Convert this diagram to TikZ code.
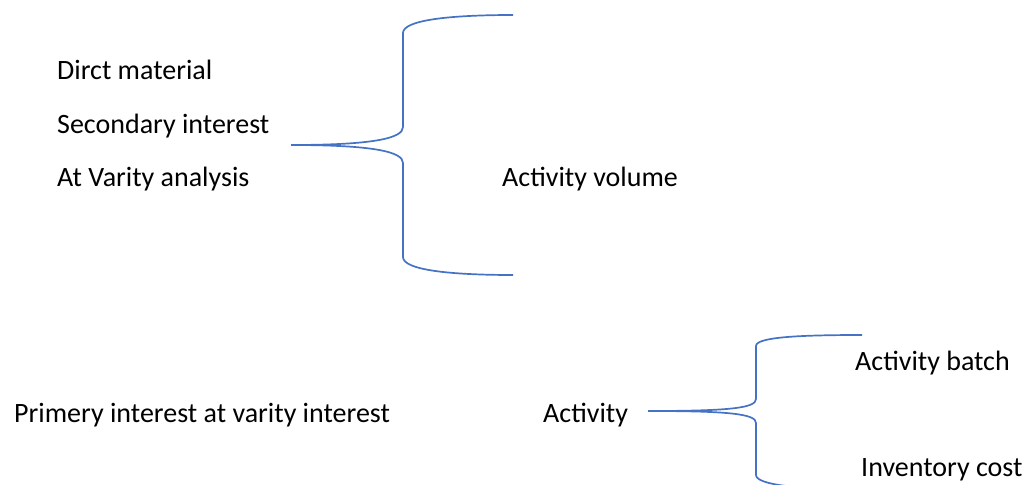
\documentclass[tikz,border=0pt]{standalone}
\usepackage{fontspec}
\setmainfont{Carlito}
\definecolor{bracecol}{RGB}{68,114,196}
\begin{document}
\begin{tikzpicture}[x=1pt,y=-1pt,
  lbl/.style={anchor=base west,inner sep=0pt,font=\fontsize{28}{34}\selectfont},
  bracepath/.style={draw=bracecol,line width=1.7pt}]
\useasboundingbox (0,0) rectangle (1032,484);
\clip (0,0) rectangle (1032,484);
% labels
\node[lbl] (dm) at (57,80) {Dirct material};
\node[lbl] (si) at (57,133) {Secondary interest};
\node[lbl] (va) at (57,186) {At Varity analysis};
\node[lbl] (av) at (502,186) {Activity volume};
\node[lbl] (pi) at (14,422) {Primery interest at varity interest};
\node[lbl] (ac) at (543,422) {Activity};
\node[lbl] (ab) at (855,370) {Activity batch};
\node[lbl] (ic) at (861,476) {Inventory cost};
% brace 1
\coordinate (b1tip) at (291,145);
\coordinate (b1top) at (513,15);
\coordinate (b1bot) at (513,275);
\path[bracepath] (b1tip) .. controls (375,145) and (403,138) .. (403,127)
  -- (403,33) .. controls (403,20) and (450,15) .. (b1top);
\path[bracepath] (b1tip) .. controls (375,145) and (403,152) .. (403,163)
  -- (403,257) .. controls (403,270) and (450,275) .. (b1bot);
% brace 2
\coordinate (b2tip) at (648,411);
\coordinate (b2top) at (862,335);
\coordinate (b2bot) at (880,490);
\path[bracepath] (b2tip) .. controls (730,411) and (756,408) .. (756,399)
  -- (756,346) .. controls (756,337) and (800,335) .. (b2top);
\path[bracepath] (b2tip) .. controls (730,411) and (756,414) .. (756,423)
  -- (756,475) .. controls (756,485) and (800,490) .. (b2bot);
\end{tikzpicture}
\end{document}
